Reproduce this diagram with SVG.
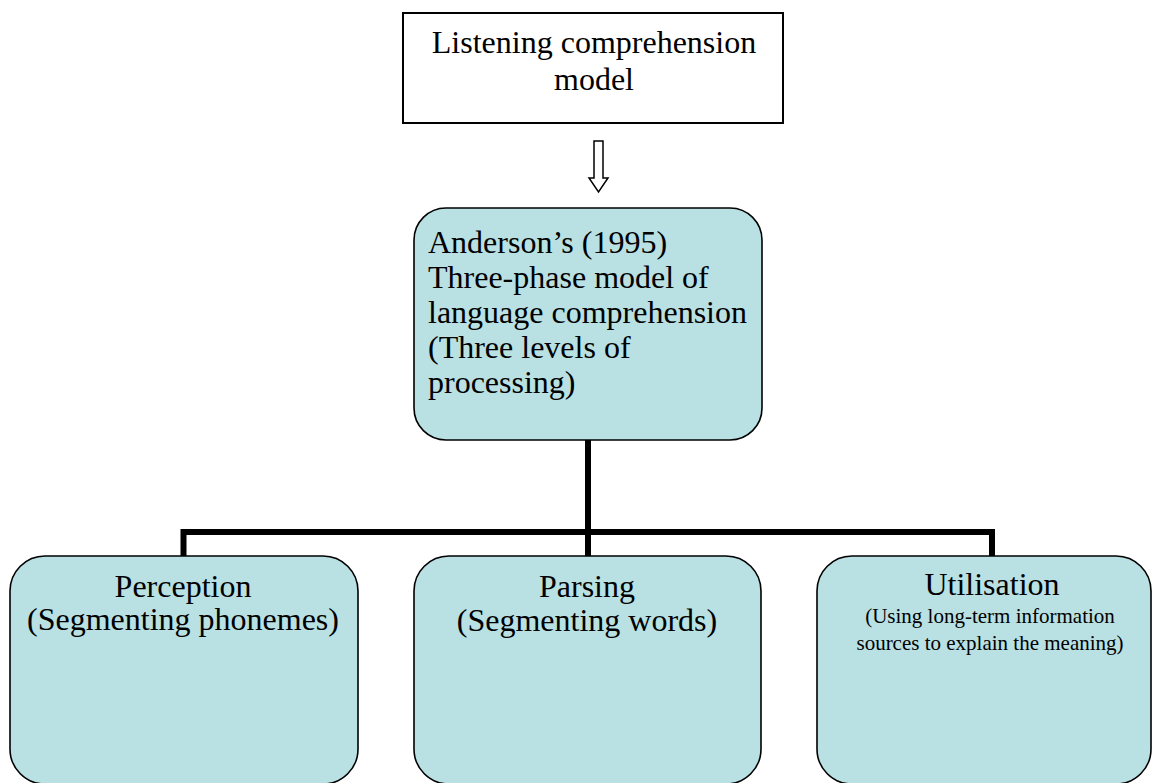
<svg xmlns="http://www.w3.org/2000/svg" width="1152" height="783" viewBox="0 0 1152 783">
<style>
.t{font-family:"Liberation Serif","Times New Roman",serif;font-size:32px;fill:#000}
.s{font-size:21px}
.c{text-anchor:middle}
.box{fill:#B9E0E3;stroke:#000;stroke-width:1.6}
.conn{fill:none;stroke:#000;stroke-width:6}
</style>
<rect width="1152" height="783" fill="#fff"/>
<g id="connectors">
<polygon points="594,141 603,141 603,178 608,178 598.5,192 589,178 594,178" fill="#fff" stroke="#000" stroke-width="1.5"/>
<path class="conn" d="M588,440 V556 M183.5,556 V532 H992 V556"/>
</g>
<g id="listening">
<rect x="403" y="13" width="380" height="110" fill="#fff" stroke="#000" stroke-width="2"/>
<text class="t c" x="594" y="53">Listening comprehension</text>
<text class="t c" x="594" y="90">model</text>
</g>
<g id="anderson">
<rect class="box" x="414" y="208" width="348" height="232" rx="32"/>
<text class="t" x="428" y="253">Anderson’s (1995)</text>
<text class="t" x="428" y="288">Three-phase model of</text>
<text class="t" x="428" y="323">language comprehension</text>
<text class="t" x="428" y="358">(Three levels of</text>
<text class="t" x="428" y="393">processing)</text>
</g>
<g id="perception">
<rect class="box" x="10" y="556" width="348" height="228" rx="35"/>
<text class="t c" x="183" y="597">Perception</text>
<text class="t c" x="183" y="630">(Segmenting phonemes)</text>
</g>
<g id="parsing">
<rect class="box" x="414" y="556" width="347" height="228" rx="35"/>
<text class="t c" x="587" y="597">Parsing</text>
<text class="t c" x="587" y="631">(Segmenting words)</text>
</g>
<g id="utilisation">
<rect class="box" x="817" y="556" width="334" height="228" rx="35"/>
<text class="t c" x="992" y="595">Utilisation</text>
<text class="t s c" x="990" y="623">(Using long-term information</text>
<text class="t s c" x="990" y="650">sources to explain the meaning)</text>
</g>
</svg>
